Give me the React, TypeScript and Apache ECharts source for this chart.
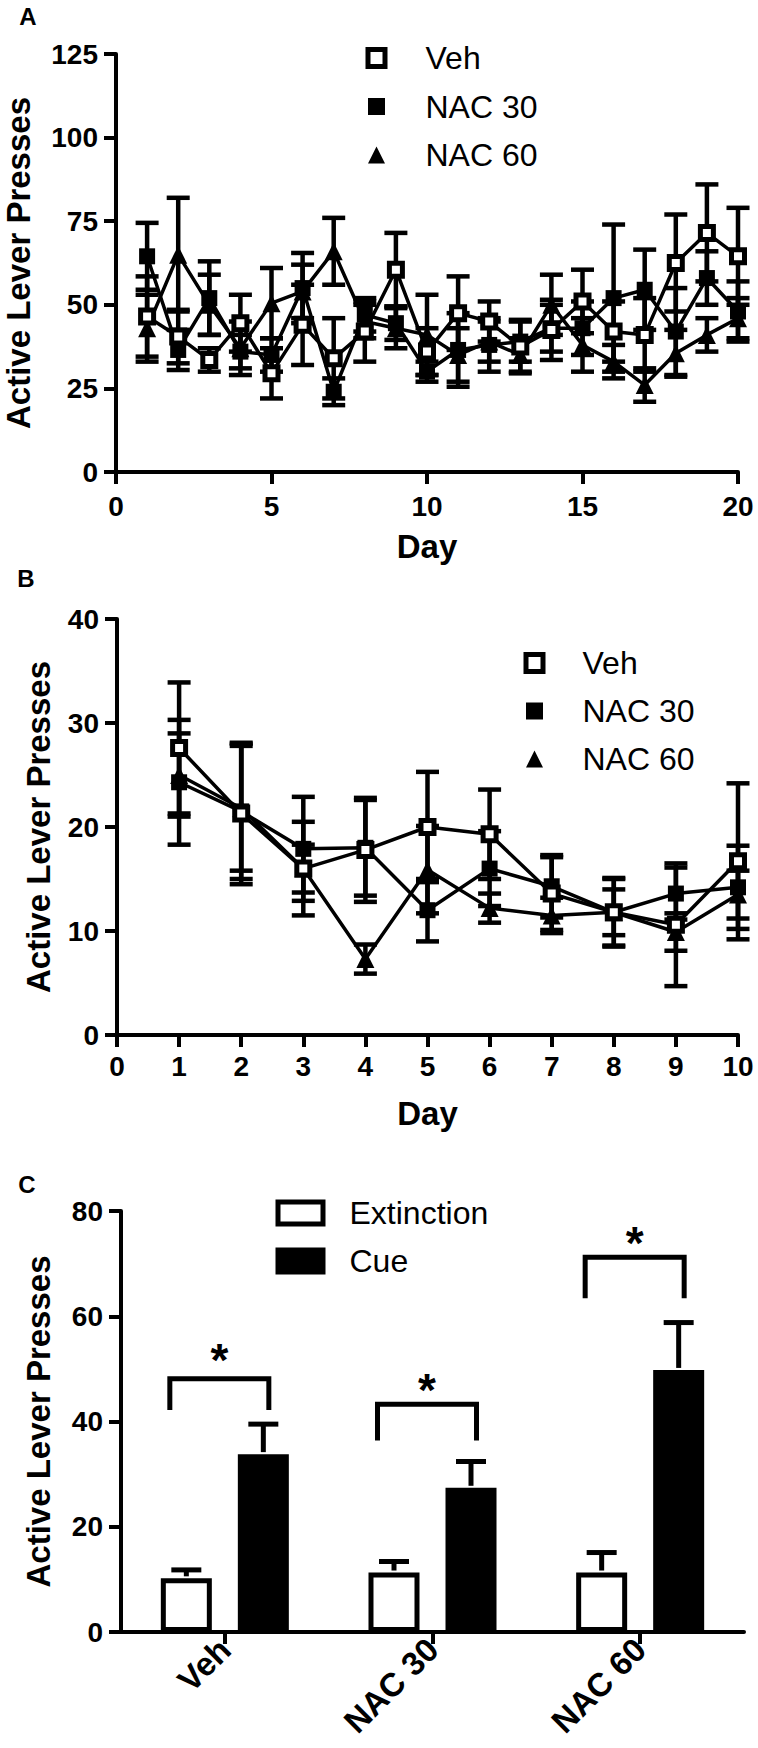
import React, { useEffect, useRef } from "react";
import * as echarts from "echarts";

const FONT = 'Arial, "Liberation Sans", Helvetica, sans-serif';

// ---------- Panel A (20 days) ----------
const daysA = [1, 2, 3, 4, 5, 6, 7, 8, 9, 10, 11, 12, 13, 14, 15, 16, 17, 18, 19, 20];
const vehA = [46.5, 40.5, 33.5, 44.5, 29.5, 44, 34, 42, 60.5, 36, 47.5, 45, 37.5, 42.5, 51, 42, 41, 62.5, 71.5, 64.5];
const vehAErr = [12, 8, 3.5, 8.5, 7.5, 12, 12, 9, 11, 7, 11, 6, 8, 9, 9.5, 9, 11, 14.5, 14.5, 14.5];
const nac30A = [64.5, 36.5, 52, 36, 35, 55, 24, 47, 44.5, 30, 36.5, 38, 39, 43, 43, 52, 54.5, 42, 58, 48];
const nac30AErr = [10, 6, 11, 5, 5, 10.5, 4, 5, 5, 3, 11, 8, 6, 7, 8, 22, 12, 13, 8, 9];
const nac60A = [43, 65, 50, 37, 50.5, 54, 66, 45, 43, 41, 35, 39, 35, 50, 38, 33, 26, 35.5, 41, 46];
const nac60AErr = [10, 17, 9, 8, 10.5, 8, 10, 5, 6, 12, 8, 6, 5, 9, 8, 5, 5, 7, 5, 6];

// ---------- Panel B (10 days) ----------
const daysB = [1, 2, 3, 4, 5, 6, 7, 8, 9, 10];
const vehB = [27.6, 21.3, 16, 17.8, 20, 19.3, 13.6, 11.8, 10.6, 16.7];
const vehBErr = [6.3, 6.8, 2.3, 5, 5.3, 4.3, 3.5, 3.3, 5.9, 7.5];
const nac30B = [24.3, 21.5, 17.9, 18, 12, 16, 14.3, 11.8, 13.6, 14.2];
const nac30BErr = [6, 6.5, 5, 4.6, 3, 3.6, 3, 3.2, 2.5, 4];
const nac60B = [25, 21.8, 16, 7.3, 15.9, 12.2, 11.5, 11.8, 9.9, 13.5];
const nac60BErr = [4, 6, 4.5, 1.4, 4.2, 1.4, 1.7, 2.2, 1.8, 2.3];

// ---------- Panel C (bars) ----------
const groupsC = ["Veh", "NAC 30", "NAC 60"];
const extinction = [10.2, 11.3, 11.3];
const extinctionErr = [1.6, 2.1, 3.8];
const cue = [33.8, 27.4, 49.8];
const cueErr = [5.7, 5.0, 9.0];
const bracketTop = [48.1, 43.3, 71.2];
const bracketLeg = [42.2, 36.4, 63.4];
const starLevel = [51.7, 46, 74];

const panelLetters = ["A", "B", "C"];

const yTicksA = { min: 0, max: 125, interval: 25 };
const xTicksA = { min: 0, max: 20, interval: 5 };
const yTicksB = { min: 0, max: 40, interval: 10 };
const xTicksB = { min: 0, max: 10, interval: 1 };
const yTicksC = { min: 0, max: 80, interval: 20 };

const BLACK = "#000";
const AXIS_W = 4;

const axisLine = { show: true, onZero: false, lineStyle: { color: BLACK, width: AXIS_W } };
const axisTick = { show: true, inside: false, length: 12, lineStyle: { color: BLACK, width: AXIS_W } };
const tickText = { color: BLACK, fontFamily: FONT, fontWeight: "bold" as const, fontSize: 28 };
const nameText = { color: BLACK, fontFamily: FONT, fontWeight: "bold" as const, fontSize: 33 };

function errData(xs: number[], m: number[], e: number[]) {
  return xs.map((x, i) => [x, m[i] - e[i], m[i] + e[i]]);
}

function errorBarSeries(idx: number, data: number[][], capHalf: number) {
  return {
    type: "custom",
    xAxisIndex: idx,
    yAxisIndex: idx,
    z: 1,
    silent: true,
    encode: { x: 0, y: [1, 2] },
    data,
    renderItem: (_p: any, api: any) => {
      const x = api.value(0);
      const lo = api.coord([x, api.value(1)]);
      const hi = api.coord([x, api.value(2)]);
      const style = { stroke: BLACK, lineWidth: 4.5, fill: null };
      return {
        type: "group",
        children: [
          { type: "line", shape: { x1: lo[0], y1: lo[1], x2: hi[0], y2: hi[1] }, style },
          { type: "line", shape: { x1: lo[0] - capHalf, y1: lo[1], x2: lo[0] + capHalf, y2: lo[1] }, style },
          { type: "line", shape: { x1: hi[0] - capHalf, y1: hi[1], x2: hi[0] + capHalf, y2: hi[1] }, style },
        ],
      };
    },
  };
}

function lineSeries(name: string, idx: number, xs: number[], ys: number[], kind: "open" | "filled" | "tri") {
  const base: any = {
    name,
    type: "line",
    xAxisIndex: idx,
    yAxisIndex: idx,
    data: xs.map((x, i) => [x, ys[i]]),
    lineStyle: { color: BLACK, width: 3.5 },
    showSymbol: true,
    z: kind === "open" ? 4 : 3,
  };
  if (kind === "open") {
    base.symbol = "rect";
    base.symbolSize = 13;
    base.itemStyle = { color: "#fff", borderColor: BLACK, borderWidth: 5 };
  } else if (kind === "filled") {
    base.symbol = "rect";
    base.symbolSize = 16;
    base.itemStyle = { color: BLACK, borderWidth: 0 };
  } else {
    base.symbol = "triangle";
    base.symbolSize = 18;
    base.itemStyle = { color: BLACK, borderWidth: 0 };
  }
  return base;
}

const BAR_W = 51;
const BAR_GAP = "51%";
const BAR_OFFSET = 38.5;

function barErrSeries(means: number[], errs: number[], offset: number) {
  return {
    type: "custom",
    xAxisIndex: 2,
    yAxisIndex: 2,
    z: 5,
    silent: true,
    encode: { x: 0, y: [1, 2] },
    data: means.map((m, i) => [i, m, m + errs[i]]),
    renderItem: (_p: any, api: any) => {
      const i = api.value(0);
      const p = api.coord([i, api.value(1)]);
      const q = api.coord([i, api.value(2)]);
      const x = p[0] + offset;
      const style = { stroke: BLACK, lineWidth: 5, fill: null };
      return {
        type: "group",
        children: [
          { type: "line", shape: { x1: x, y1: p[1] - 2, x2: x, y2: q[1] }, style },
          { type: "line", shape: { x1: x - 15, y1: q[1], x2: x + 15, y2: q[1] }, style },
        ],
      };
    },
  };
}

function buildOption(): any {
  const legendText = (pad: number) => ({
    color: BLACK,
    fontFamily: FONT,
    fontSize: 32,
    lineHeight: 32,
    padding: [0, 0, 0, pad],
  });
  const letterPos = [
    [28, 16],
    [26, 578],
    [27, 1184],
  ];
  return {
    animation: false,
    backgroundColor: "#fff",
    graphic: {
      elements: panelLetters.map((t, i) => ({
        type: "text",
        x: letterPos[i][0],
        y: letterPos[i][1],
        style: {
          text: t,
          font: 'bold 24px Arial, "Liberation Sans", Helvetica, sans-serif',
          fontFamily: FONT,
          fontWeight: "bold",
          fontSize: 24,
          fill: BLACK,
          align: "center",
          verticalAlign: "middle",
        },
      })),
    },
    legend: [
      {
        orient: "vertical",
        left: 365.5,
        top: 42,
        padding: 0,
        itemGap: 16.5,
        itemWidth: 17,
        itemHeight: 17,
        selectedMode: false,
        textStyle: legendText(35.5),
        data: [
          { name: "Veh", icon: "rect", itemStyle: { color: "#fff", borderColor: BLACK, borderWidth: 5 } },
          { name: "NAC 30", icon: "rect", itemStyle: { color: BLACK, borderWidth: 0 } },
          { name: "NAC 60", icon: "triangle", itemStyle: { color: BLACK, borderWidth: 0 } },
        ],
      },
      {
        orient: "vertical",
        left: 523.5,
        top: 647,
        padding: 0,
        itemGap: 16,
        itemWidth: 17,
        itemHeight: 17,
        selectedMode: false,
        textStyle: legendText(34.5),
        data: [
          { name: "Veh", icon: "rect", itemStyle: { color: "#fff", borderColor: BLACK, borderWidth: 5 } },
          { name: "NAC 30", icon: "rect", itemStyle: { color: BLACK, borderWidth: 0 } },
          { name: "NAC 60", icon: "triangle", itemStyle: { color: BLACK, borderWidth: 0 } },
        ],
      },
      {
        orient: "vertical",
        left: 275.5,
        top: 1197,
        padding: 0,
        itemGap: 16,
        itemWidth: 45,
        itemHeight: 22,
        selectedMode: false,
        textStyle: legendText(21.5),
        data: [
          { name: "Extinction", icon: "rect", itemStyle: { color: "#fff", borderColor: BLACK, borderWidth: 5 } },
          { name: "Cue", icon: "rect", itemStyle: { color: BLACK, borderColor: BLACK, borderWidth: 5 } },
        ],
      },
    ],
    grid: [
      { left: 116, top: 54, width: 622, height: 418, outerBoundsMode: "none", containLabel: false },
      { left: 117, top: 619, width: 621, height: 416, outerBoundsMode: "none", containLabel: false },
      { left: 121, top: 1211, width: 623, height: 421, outerBoundsMode: "none", containLabel: false },
    ],
    xAxis: [
      {
        gridIndex: 0,
        type: "value",
        ...xTicksA,
        axisLine,
        axisTick,
        splitLine: { show: false },
        axisLabel: { ...tickText, margin: 20 },
        name: "Day",
        nameLocation: "middle",
        nameGap: 58,
        nameTextStyle: nameText,
      },
      {
        gridIndex: 1,
        type: "value",
        ...xTicksB,
        axisLine,
        axisTick,
        splitLine: { show: false },
        axisLabel: { ...tickText, margin: 17 },
        name: "Day",
        nameLocation: "middle",
        nameGap: 62,
        nameTextStyle: nameText,
      },
      {
        gridIndex: 2,
        type: "category",
        data: groupsC,
        axisLine,
        axisTick: { ...axisTick, alignWithLabel: true },
        splitLine: { show: false },
        axisLabel: { ...tickText, fontSize: 33, margin: 12, rotate: 45, interval: 0 },
      },
    ],
    yAxis: [
      {
        gridIndex: 0,
        type: "value",
        ...yTicksA,
        axisLine,
        axisTick,
        splitLine: { show: false },
        axisLabel: { ...tickText, margin: 18 },
        name: "Active Lever Presses",
        nameLocation: "middle",
        nameGap: 81,
        nameTextStyle: nameText,
      },
      {
        gridIndex: 1,
        type: "value",
        ...yTicksB,
        axisLine,
        axisTick,
        splitLine: { show: false },
        axisLabel: { ...tickText, margin: 18 },
        name: "Active Lever Presses",
        nameLocation: "middle",
        nameGap: 62,
        nameTextStyle: nameText,
      },
      {
        gridIndex: 2,
        type: "value",
        ...yTicksC,
        axisLine,
        axisTick,
        splitLine: { show: false },
        axisLabel: { ...tickText, margin: 18 },
        name: "Active Lever Presses",
        nameLocation: "middle",
        nameGap: 66,
        nameTextStyle: nameText,
      },
    ],
    series: [
      errorBarSeries(0, errData(daysA, vehA, vehAErr), 11.5),
      errorBarSeries(0, errData(daysA, nac30A, nac30AErr), 11.5),
      errorBarSeries(0, errData(daysA, nac60A, nac60AErr), 11.5),
      lineSeries("NAC 60", 0, daysA, nac60A, "tri"),
      lineSeries("NAC 30", 0, daysA, nac30A, "filled"),
      lineSeries("Veh", 0, daysA, vehA, "open"),

      errorBarSeries(1, errData(daysB, vehB, vehBErr), 11.5),
      errorBarSeries(1, errData(daysB, nac30B, nac30BErr), 11.5),
      errorBarSeries(1, errData(daysB, nac60B, nac60BErr), 11.5),
      lineSeries("NAC 60", 1, daysB, nac60B, "tri"),
      lineSeries("NAC 30", 1, daysB, nac30B, "filled"),
      lineSeries("Veh", 1, daysB, vehB, "open"),

      {
        name: "Extinction",
        type: "bar",
        xAxisIndex: 2,
        yAxisIndex: 2,
        data: extinction,
        barWidth: BAR_W,
        barGap: BAR_GAP,
        z: 3,
        itemStyle: { color: "#fff", borderColor: BLACK, borderWidth: 5 },
      },
      {
        name: "Cue",
        type: "bar",
        xAxisIndex: 2,
        yAxisIndex: 2,
        data: cue,
        barWidth: BAR_W,
        barGap: BAR_GAP,
        z: 3,
        itemStyle: { color: BLACK, borderColor: BLACK, borderWidth: 5 },
      },
      barErrSeries(extinction, extinctionErr, -BAR_OFFSET),
      barErrSeries(cue, cueErr, BAR_OFFSET),
      {
        type: "custom",
        xAxisIndex: 2,
        yAxisIndex: 2,
        z: 6,
        silent: true,
        encode: { x: 0, y: [1, 2, 3] },
        data: groupsC.map((_, i) => [i, bracketTop[i], bracketLeg[i], starLevel[i]]),
        renderItem: (_p: any, api: any) => {
          const i = api.value(0);
          const top = api.coord([i, api.value(1)]);
          const leg = api.coord([i, api.value(2)]);
          const star = api.coord([i, api.value(3)]);
          const xl = top[0] - 55;
          const xr = top[0] + 44;
          return {
            type: "group",
            children: [
              {
                type: "polyline",
                shape: { points: [[xl, leg[1]], [xl, top[1]], [xr, top[1]], [xr, leg[1]]] },
                style: { stroke: BLACK, lineWidth: 5, fill: null, lineJoin: "miter" },
              },
              {
                type: "text",
                x: (xl + xr) / 2,
                y: star[1],
                style: {
                  text: "*",
                  fontSize: 46,
                  fontWeight: "bold",
                  fontFamily: FONT,
                  fill: BLACK,
                  align: "center",
                  verticalAlign: "middle",
                },
              },
            ],
          };
        },
      },
    ],
  };
}

export default function App() {
  const ref = useRef<HTMLDivElement>(null);
  useEffect(() => {
    if (!ref.current) return;
    const chart = echarts.init(ref.current, null, { renderer: "svg" });
    chart.setOption(buildOption());
    return () => chart.dispose();
  }, []);
  return (
    <div
      ref={ref}
      style={{ position: "absolute", left: 0, top: 0, width: 758, height: 1748, background: "#fff" }}
    />
  );
}
